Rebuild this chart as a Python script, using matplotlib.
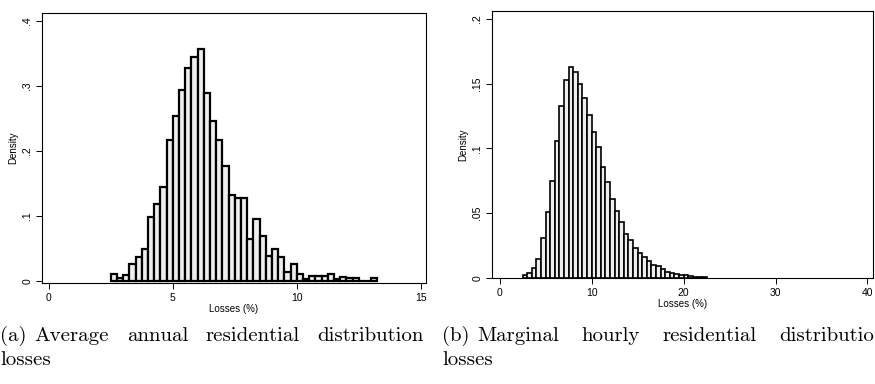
import numpy as np
import matplotlib
matplotlib.use("Agg")
import matplotlib.pyplot as plt

# (a) average annual residential distribution losses, bins of 0.25 starting at 2.5
a_start, a_width = 2.5, 0.25
a_density = [0.011, 0.005, 0.009, 0.026, 0.037, 0.050, 0.098, 0.119, 0.144, 0.217,
             0.253, 0.293, 0.328, 0.344, 0.356, 0.289, 0.246, 0.217, 0.177, 0.132,
             0.127, 0.128, 0.065, 0.095, 0.070, 0.038, 0.049, 0.037, 0.014, 0.026,
             0.011, 0.003, 0.008, 0.008, 0.007, 0.011, 0.003, 0.006, 0.005, 0.004,
             0.0, 0.0, 0.004]
a_xticks = [0, 5, 10, 15]
a_yticks = [0, 0.1, 0.2, 0.3, 0.4]
a_ylabels = ["0", ".1", ".2", ".3", ".4"]

# (b) marginal hourly residential distribution losses, bins of 0.5 starting at 2.5
b_start, b_width = 2.5, 0.5
b_density = [0.002, 0.004, 0.008, 0.015, 0.031, 0.051, 0.075, 0.106, 0.133, 0.153,
             0.163, 0.159, 0.150, 0.139, 0.126, 0.113, 0.101, 0.086, 0.074, 0.061,
             0.052, 0.043, 0.034, 0.029, 0.023, 0.019, 0.016, 0.013, 0.010, 0.009,
             0.007, 0.005, 0.004, 0.003, 0.0025, 0.002, 0.0015, 0.001, 0.0008, 0.0005]
b_xticks = [0, 10, 20, 30, 40]
b_yticks = [0, 0.05, 0.1, 0.15, 0.2]
b_ylabels = ["0", ".05", ".1", ".15", ".2"]

# caption text as it appears (the page image cuts the last letter of (b))
cap_a = "(a) Average annual residential distribution"
cap_b = "(b) Marginal hourly residential distributio"

W, H = 875, 384
fig = plt.figure(figsize=(W / 100, H / 100), dpi=100)
fig.patch.set_facecolor("white")

SANS = "Liberation Sans"


def panel(rect, start, width, dens, xticks, yticks, ylabels, xlim, ylim, lw):
    ax = fig.add_axes(rect)
    edges = start + width * np.arange(len(dens))
    ax.bar(edges, dens, width=width, align="edge", color="#eeeeee",
           edgecolor="black", linewidth=lw)
    ax.set_xlim(*xlim)
    ax.set_ylim(*ylim)
    ax.set_xticks(xticks)
    ax.set_xticklabels([str(t) for t in xticks], fontsize=7.5, family=SANS)
    ax.set_yticks(yticks)
    ax.set_yticklabels(ylabels, fontsize=7.5, family=SANS, rotation=90, va="center")
    ax.tick_params(direction="out", length=4, width=0.7, pad=3)
    for s in ax.spines.values():
        s.set_linewidth(0.8)
    ax.set_ylabel("Density", fontsize=7, family=SANS, labelpad=3)
    ax.set_xlabel("Losses (%)", fontsize=7, family=SANS, labelpad=1)
    return ax


panel([42 / W, 1 - 283 / H, 384 / W, 270 / H], a_start, a_width, a_density,
      a_xticks, a_yticks, a_ylabels, (-0.27, 15.21), (-0.003, 0.412), 1.6)
panel([492 / W, 1 - 278 / H, 381 / W, 267 / H], b_start, b_width, b_density,
      b_xticks, b_yticks, b_ylabels, (-0.83, 40.6), (0, 0.206), 1.2)

renderer = fig.canvas.get_renderer()
CAP_SIZE = 15


def justified(line, x0, x1, ybase, label_gap=8):
    # label "(a)" keeps a plain space, the other words are spread to fill x0..x1
    words = line.split()
    arts = [fig.text(0, 1 - ybase / H, w, family="cmr10", fontsize=CAP_SIZE,
                     ha="left", va="baseline") for w in words]
    widths = [a.get_window_extent(renderer).width for a in arts]
    rest = x1 - (x0 + widths[0] + label_gap)
    gap = (rest - sum(widths[1:])) / (len(words) - 2)
    arts[0].set_x(x0 / W)
    x = x0 + widths[0] + label_gap
    for a, w in zip(arts[1:], widths[1:]):
        a.set_x(x / W)
        x += w + gap


justified(cap_a, 0, 424, 341)
justified(cap_b, 442, 874, 341)
fig.text(0 / W, 1 - 365 / H, "losses", family="cmr10", fontsize=CAP_SIZE,
         ha="left", va="baseline")
fig.text(442 / W, 1 - 365 / H, "losses", family="cmr10", fontsize=CAP_SIZE,
         ha="left", va="baseline")

fig.savefig("out.png", dpi=100)
